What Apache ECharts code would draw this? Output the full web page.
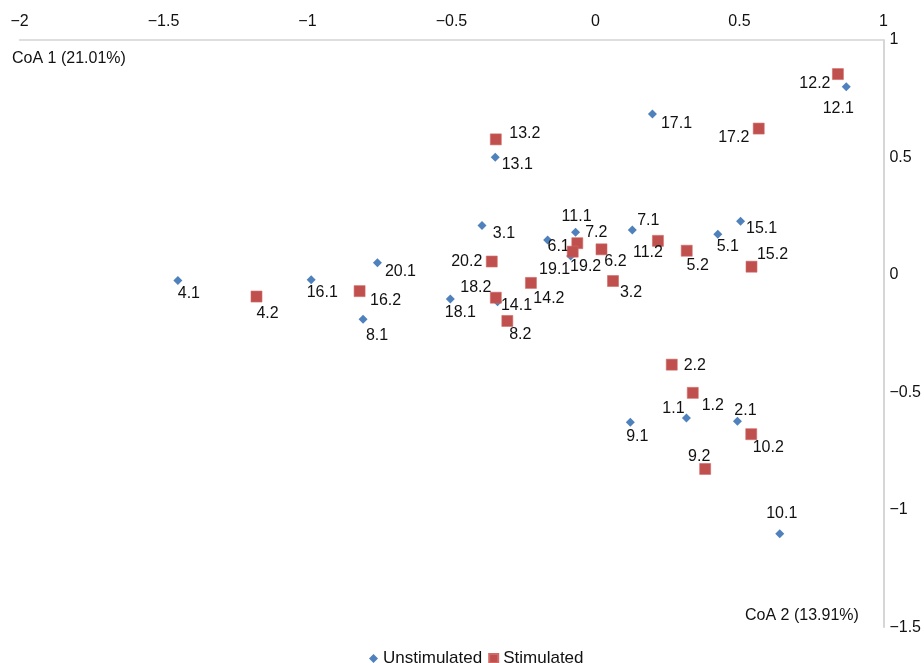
<!DOCTYPE html>
<html>
<head>
<meta charset="utf-8">
<script src="https://cdn.jsdelivr.net/npm/echarts@6/dist/echarts.min.js"></script>
<style>
html,body{margin:0;padding:0;background:#fff;}
#chart{width:924px;height:663px;}
</style>
</head>
<body>
<div id="chart"></div>
<script>
// ---- data ----
var seriesNames = ['Unstimulated', 'Stimulated'];
var xTickLabels = ['-2', '-1.5', '-1', '-0.5', '0', '0.5', '1'];
var yTickLabels = ['-1.5', '-1', '-0.5', '0', '0.5', '1'];
var axisTitleX = 'CoA 1 (21.01%)';
var axisTitleY = 'CoA 2 (13.91%)';

var unstimNames = ['1.1','2.1','3.1','4.1','5.1','6.1','7.1','8.1','9.1','10.1','11.1','12.1','13.1','14.1','15.1','16.1','17.1','18.1','19.1','20.1'];
var unstimX = [0.316, 0.493, -0.394, -1.450, 0.425, -0.166, 0.128, -0.807, 0.121, 0.640, -0.069, 0.871, -0.348, -0.340, 0.504, -0.987, 0.198, -0.504, -0.086, -0.757];
var unstimY = [-0.609, -0.623, 0.210, -0.024, 0.173, 0.149, 0.191, -0.189, -0.627, -1.102, 0.182, 0.801, 0.501, -0.114, 0.228, -0.021, 0.685, -0.102, 0.081, 0.052];

var stimNames = ['1.2','2.2','3.2','4.2','5.2','6.2','7.2','8.2','9.2','10.2','11.2','12.2','13.2','14.2','15.2','16.2','17.2','18.2','19.2','20.2'];
var stimX = [0.338, 0.265, 0.061, -1.177, 0.317, 0.021, -0.063, -0.306, 0.381, 0.541, 0.217, 0.842, -0.346, -0.224, 0.542, -0.819, 0.567, -0.346, -0.079, -0.360];
var stimY = [-0.502, -0.382, -0.026, -0.092, 0.103, 0.109, 0.135, -0.196, -0.826, -0.678, 0.145, 0.855, 0.577, -0.034, 0.035, -0.069, 0.623, -0.097, 0.099, 0.057];

// ---- label placement (style, px offsets of label centre from marker) ----
var unstimLabelOffsets = [[-13,-9],[8,-11],[22,8],[11,13],[10,12],[11,7],[16,-9],[14,16],[7,14],[2,-20],[1,-16],[-8,22],[22,7],[19,4],[21,7],[11,13],[24,10],[10,14],[-16,14],[23,9]];
var stimLabelOffsets = [[20,13],[23,1],[18,12],[11,17],[11,15],[14,12],[19,-11],[13,14],[-6,-12],[17,13],[-10,12],[-23,10],[29,-6],[18,16],[21,-12],[26,9],[-25,9],[-20,-10],[13,15],[-25,0]];

var FONT = '"Liberation Sans", Arial, Helvetica, sans-serif';
var TXT = '#111111';

function build(names, xs, ys, offs) {
  return names.map(function (n, i) {
    return { name: n, value: [xs[i], ys[i]], label: { offset: offs[i] } };
  });
}
function fmtMinus(v) { return String(v).replace('-', '\u2212'); }
function tickFormatter(labels) {
  return function (v) {
    var s = String(Math.round(v * 100) / 100);
    for (var i = 0; i < labels.length; i++) {
      if (parseFloat(labels[i]) === parseFloat(s)) return fmtMinus(labels[i]);
    }
    return '';
  };
}

var labelStyle = {
  show: true,
  position: 'inside',
  align: 'center',
  verticalAlign: 'middle',
  formatter: '{b}',
  color: TXT,
  opacity: 1,
  fontSize: 16,
  fontFamily: FONT,
  textBorderWidth: 0
};

var chart = echarts.init(document.getElementById('chart'), null, { renderer: 'canvas' });
chart.setOption({
  animation: false,
  backgroundColor: '#ffffff',
  grid: { left: 19.5, right: 40.5, top: 40, bottom: 35.7, containLabel: false },
  xAxis: {
    type: 'value',
    position: 'top',
    min: -2, max: 1, interval: 0.5,
    axisLine: { show: true, onZero: false, lineStyle: { color: '#d4d4d4', width: 1.5 } },
    axisTick: { show: false },
    splitLine: { show: false },
    axisLabel: { margin: 10, fontSize: 16, fontFamily: FONT, color: TXT, formatter: tickFormatter(xTickLabels) }
  },
  yAxis: {
    type: 'value',
    position: 'right',
    min: -1.5, max: 1, interval: 0.5,
    axisLine: { show: true, onZero: false, lineStyle: { color: '#c8c8c8', width: 1.5 } },
    axisTick: { show: false },
    splitLine: { show: false },
    axisLabel: { margin: 6, fontSize: 16, fontFamily: FONT, color: TXT, formatter: tickFormatter(yTickLabels) }
  },
  legend: {
    data: seriesNames,
    left: 364,
    top: 645,
    itemWidth: 9,
    itemHeight: 9,
    itemGap: 6,
    textStyle: { fontSize: 17, fontFamily: FONT, color: TXT }
  },
  graphic: [
    { type: 'text', left: 12, top: 51, style: { text: axisTitleX, fontSize: 16, fontFamily: FONT, fill: TXT } },
    { type: 'text', left: 745, top: 608, style: { text: axisTitleY, fontSize: 16, fontFamily: FONT, fill: TXT } }
  ],
  series: [
    {
      name: seriesNames[0],
      type: 'scatter',
      symbol: 'diamond',
      symbolSize: 9,
      itemStyle: { color: '#4F81BD', opacity: 1 },
      label: labelStyle,
      data: build(unstimNames, unstimX, unstimY, unstimLabelOffsets),
      z: 2
    },
    {
      name: seriesNames[1],
      type: 'scatter',
      symbol: 'rect',
      symbolSize: 11,
      itemStyle: { color: '#C0504D', borderColor: '#d06a67', borderWidth: 0.6, opacity: 1 },
      label: labelStyle,
      data: build(stimNames, stimX, stimY, stimLabelOffsets),
      z: 3
    }
  ]
});
</script>
</body>
</html>
